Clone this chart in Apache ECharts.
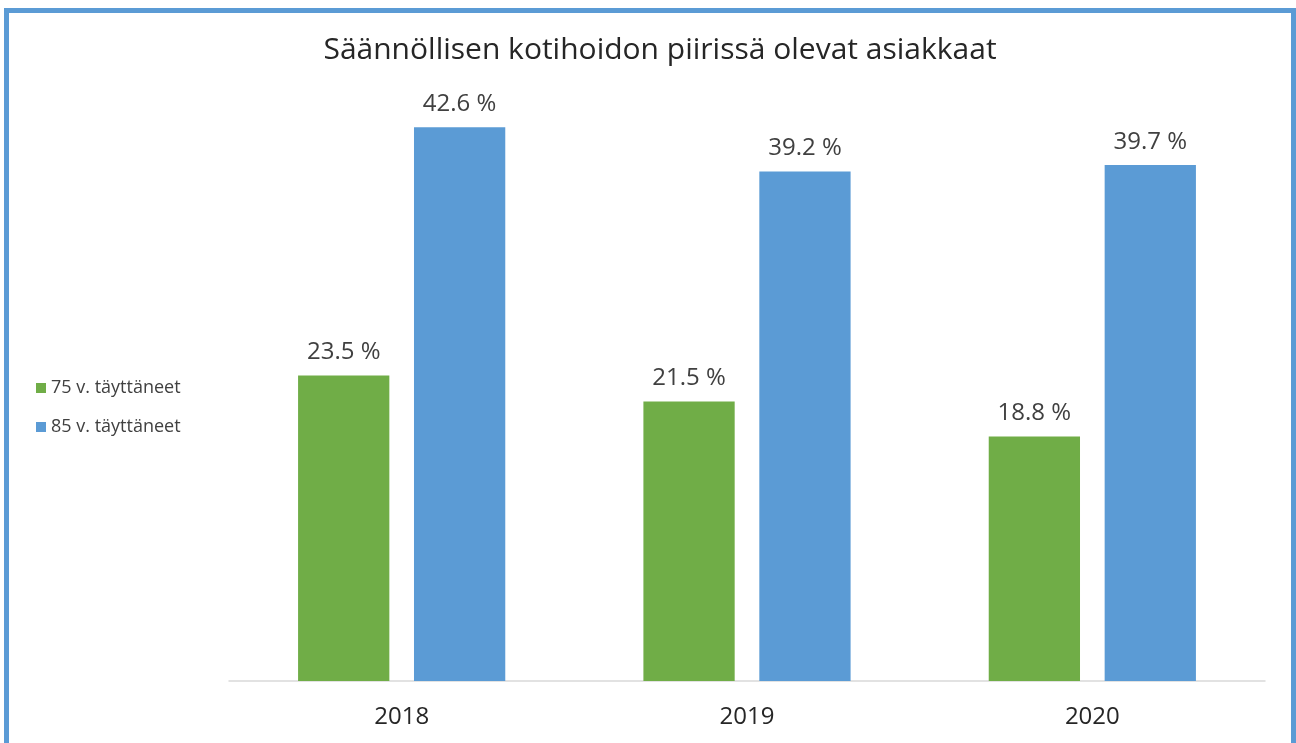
<!DOCTYPE html>
<html>
<head>
<meta charset="utf-8">
<script src="https://cdn.jsdelivr.net/npm/echarts@6/dist/echarts.min.js"></script>
<style>
  html, body { margin: 0; padding: 0; background: #fff; }
  #frame {
    position: absolute; left: 4px; top: 8px; width: 1282px; height: 745px;
    border: 5px solid #5b9bd5; border-bottom: none; box-sizing: content-box;
  }
  #chart { position: absolute; left: 0; top: 0; width: 1296px; height: 743px; }
</style>
</head>
<body>
<div id="frame"></div>
<div id="chart"></div>
<script>
const years = ['2018', '2019', '2020']
const age75 = [23.5, 21.5, 18.8]
const age85 = [42.6, 39.2, 39.7]
const seriesNames = ['75 v. täyttäneet', '85 v. täyttäneet']

const chart = echarts.init(document.getElementById('chart'))
const font = '"Open Sans", "Noto Sans", sans-serif'

const label = {
  show: true,
  position: 'top',
  distance: 11,
  color: '#404040',
  fontSize: 24,
  fontFamily: font,
  formatter: p => p.value.toFixed(1) + ' %',
}

chart.setOption({
  animation: false,
  title: {
    text: 'Säännöllisen kotihoidon piirissä olevat asiakkaat',
    left: 655,
    textAlign: 'center',
    top: 30,
    textStyle: { color: '#262626', fontSize: 30, fontWeight: 'normal', fontFamily: font },
  },
  legend: {
    data: seriesNames,
    orient: 'vertical',
    icon: 'rect',
    left: 31,
    top: 374,
    itemWidth: 10,
    itemHeight: 10,
    itemGap: 21,
    textStyle: { color: '#404040', fontSize: 18, fontFamily: font },
  },
  grid: { left: 229, right: 31, top: 96, bottom: 62 },
  xAxis: {
    type: 'category',
    data: years,
    axisLine: { lineStyle: { color: '#d9d9d9', width: 1.5 } },
    axisTick: { show: false },
    axisLabel: { color: '#262626', fontSize: 24, fontFamily: font, margin: 24 },
  },
  yAxis: {
    type: 'value',
    min: 0,
    max: 45,
    show: false,
    splitLine: { show: false },
  },
  series: [
    {
      name: seriesNames[0],
      type: 'bar',
      data: age75,
      barGap: '27%',
      barCategoryGap: '40%',
      itemStyle: { color: '#70ad47' },
      label,
    },
    {
      name: seriesNames[1],
      type: 'bar',
      data: age85,
      itemStyle: { color: '#5b9bd5' },
      label,
    },
  ],
})
</script>
</body>
</html>
